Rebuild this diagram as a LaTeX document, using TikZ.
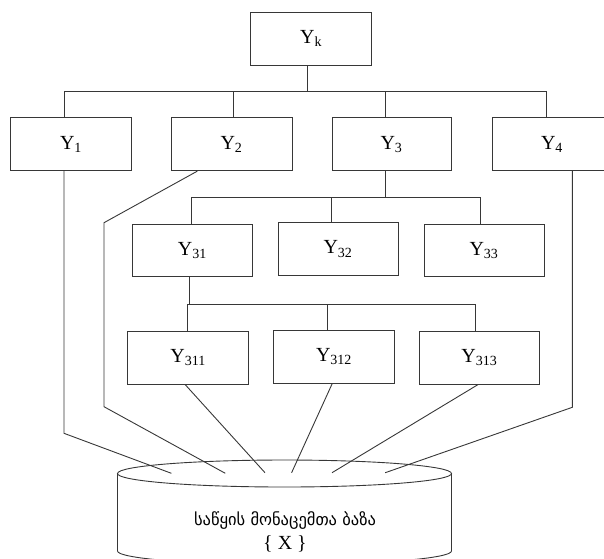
\documentclass[tikz,border=0pt]{standalone}
\usepackage{fontspec}
\setmainfont{Liberation Serif}
\newfontfamily\geofont[Script=Georgian]{DejaVu Sans}
\definecolor{lc}{RGB}{55,55,55}
\begin{document}
\begin{tikzpicture}[x=1pt,y=-1pt,
  box/.style={draw=lc, line width=0.9pt, rectangle, minimum width=120pt, minimum height=53pt, inner sep=0pt, font=\fontsize{20}{22}\selectfont},
  conn/.style={draw=lc, line width=0.9pt}]
\useasboundingbox (0,0) rectangle (604,558);
% boxes
\node[box, minimum width=121pt] (yk) at (311.2,38.8) {Y\textsubscript{k}};
\node[box, minimum width=120.6pt] (y1) at (71,144.2) {Y\textsubscript{1}};
\node[box, minimum width=121pt] (y2) at (231.5,144.2) {Y\textsubscript{2}};
\node[box, minimum width=119pt] (y3) at (391.5,144.2) {Y\textsubscript{3}};
\node[box] (y4) at (552,144.2) {Y\textsubscript{4}};
\node[box, minimum height=52.7pt] (y31) at (192.3,250.3) {Y\textsubscript{31}};
\node[box, minimum height=52.7pt] (y32) at (338,249) {Y\textsubscript{32}};
\node[box, minimum height=52.7pt] (y33) at (484,250.3) {Y\textsubscript{33}};
\node[box, minimum width=121pt, minimum height=52.3pt] (y311) at (188.2,357.8) {Y\textsubscript{311}};
\node[box, minimum width=120.6pt, minimum height=52.3pt] (y312) at (334,356.8) {Y\textsubscript{312}};
\node[box, minimum height=52.3pt] (y313) at (479.3,357.8) {Y\textsubscript{313}};
% bus levels
\coordinate (b1) at (0,91);
\coordinate (b2) at (0,197);
\coordinate (b3) at (0,304.3);
% level 1
\draw[conn] ([xshift=-3.5pt]yk.south) -- ([xshift=-3.5pt]yk.south |- b1);
\draw[conn] ([xshift=-7pt]y1.north) -- ([xshift=-7pt]y1.north |- b1) -- ([xshift=-6pt]y4.north |- b1) -- ([xshift=-6pt]y4.north);
\draw[conn] ([xshift=2.2pt]y2.north) -- ([xshift=2.2pt]y2.north |- b1);
\draw[conn] ([xshift=-6.2pt]y3.north) -- ([xshift=-6.2pt]y3.north |- b1);
% level 2
\draw[conn] ([xshift=-6.2pt]y3.south) -- ([xshift=-6.2pt]y3.south |- b2);
\draw[conn] ([xshift=-0.6pt]y31.north) -- ([xshift=-0.6pt]y31.north |- b2) -- ([xshift=-4pt]y33.north |- b2) -- ([xshift=-4pt]y33.north);
\draw[conn] ([xshift=-6.3pt]y32.north) -- ([xshift=-6.3pt]y32.north |- b2);
% level 3
\draw[conn] ([xshift=-3pt]y31.south) -- ([xshift=-3pt]y31.south |- b3);
\draw[conn] ([xshift=-0.9pt]y311.north) -- ([xshift=-0.9pt]y311.north |- b3) -- ([xshift=-4.3pt]y313.north |- b3) -- ([xshift=-4.3pt]y313.north);
\draw[conn] ([xshift=-6.7pt]y312.north) -- ([xshift=-6.7pt]y312.north |- b3);
% database cylinder
\draw[conn, fill=white] (117.5,473.5) -- (117.5,551) arc[start angle=180, end angle=360, x radius=167pt, y radius=13.5pt] -- (451.5,473.5);
\draw[conn] (284.5,473.5) ellipse [x radius=167pt, y radius=13.5pt];
\node[font=\geofont\fontsize{16.5}{18}\selectfont, inner sep=0pt] (dbname) at (285,520.7) {საწყის მონაცემთა ბაზა};
\node[font=\fontsize{20}{22}\selectfont, inner sep=0pt] (dbx) at (285,544) {\{ X \}};
% bends and ends
\coordinate (k1) at (64,433.3);
\coordinate (e1) at (171.4,473.3);
\coordinate (k2a) at (104,222.7);
\coordinate (k2b) at (104,406.7);
\coordinate (e2) at (225.3,473.3);
\coordinate (e311) at (265,472.7);
\coordinate (e312) at (291.6,472.7);
\coordinate (e313) at (332,472.7);
\coordinate (k4) at (572.3,407.3);
\coordinate (e4) at (385.2,472.7);
\draw[conn] ([xshift=-7pt]y1.south) -- (k1) -- (e1);
\draw[conn] ([xshift=-34.2pt]y2.south) -- (k2a) -- (k2b) -- (e2);
\draw[conn] ([xshift=-3.2pt]y311.south) -- (e311);
\draw[conn] ([xshift=-1.7pt]y312.south) -- (e312);
\draw[conn] ([xshift=-1pt]y313.south) -- (e313);
\draw[conn] ([xshift=20.3pt]y4.south) -- (k4) -- (e4);
\end{tikzpicture}
\end{document}
